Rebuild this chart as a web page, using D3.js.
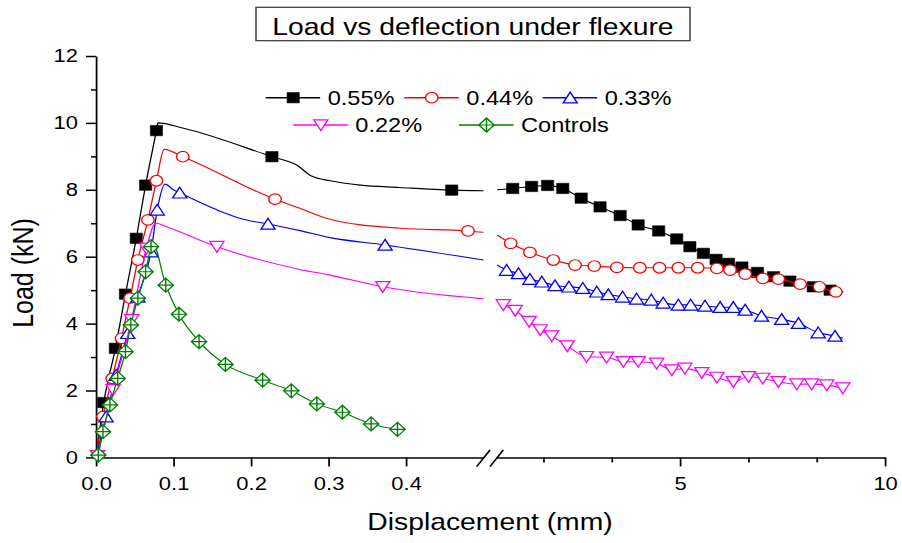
<!DOCTYPE html>
<html>
<head>
<meta charset="utf-8">
<script src="https://cdn.jsdelivr.net/npm/d3@7"></script>
<style>
  body { margin: 0; background: #fff; }
  svg { display: block; }
</style>
</head>
<body>
<div id="chart"></div>
<script>
// broken x axis: 0 - 0.5 mm on the left part, 0.5 - 10 mm on the right part
const yTicks = [0, 2, 4, 6, 8, 10, 12];
const yMinor = [1, 3, 5, 7, 9, 11];
const leftTicks = [0, 0.1, 0.2, 0.3, 0.4];
const leftTickLabels = ["0.0", "0.1", "0.2", "0.3", "0.4"];
const rightTicks = [5, 10];
const rightMinor = [1.667, 3.333, 6.667, 8.333];

// [displacement mm, load kN] -- points that carry a marker
const marks055 = [[0.010,1.64],[0.025,3.26],[0.038,4.88],[0.052,6.55],[0.064,8.14],[0.078,9.77],[0.227,8.99],[0.459,7.99],
  [0.92,8.04],[1.38,8.10],[1.77,8.13],[2.14,8.04],[2.59,7.75],[3.05,7.49],[3.54,7.23],[3.98,6.95],[4.48,6.77],[4.92,6.53],
  [5.24,6.30],[5.57,6.10],[5.88,5.92],[6.18,5.80],[6.51,5.69],[6.89,5.53],[7.28,5.40],[7.68,5.27],[8.25,5.10],[8.66,5.00]];
const marks044 = [[0.009,1.22],[0.021,2.36],[0.033,3.56],[0.044,4.76],[0.054,5.90],[0.067,7.10],[0.078,8.27],[0.112,8.99],[0.231,7.72],[0.480,6.77],
  [0.87,6.40],[1.34,6.13],[1.91,5.90],[2.44,5.75],[2.91,5.72],[3.46,5.68],[4.02,5.67],[4.50,5.67],[4.96,5.67],[5.43,5.67],
  [5.90,5.65],[6.22,5.60],[6.59,5.48],[7.02,5.35],[7.40,5.33],[7.93,5.18],[8.40,5.10],[8.80,4.95]];
const marks033 = [[0.013,1.22],[0.026,2.46],[0.041,3.71],[0.054,4.80],[0.071,6.15],[0.079,7.40],[0.108,7.91],[0.222,6.98],[0.373,6.35],
  [0.77,5.60],[1.06,5.50],[1.34,5.33],[1.63,5.25],[1.95,5.14],[2.29,5.10],[2.63,5.06],[2.97,4.95],[3.25,4.87],[3.60,4.80],
  [3.94,4.74],[4.30,4.71],[4.59,4.62],[4.96,4.56],[5.26,4.56],[5.61,4.53],[5.98,4.49],[6.30,4.49],[6.59,4.41],[6.99,4.23],
  [7.48,4.13],[7.89,4.01],[8.37,3.73],[8.78,3.63]];
const marks022 = [[0.002,0.05],[0.022,2.02],[0.046,4.11],[0.065,6.25],[0.156,6.30],[0.370,5.10],
  [0.69,4.56],[0.98,4.39],[1.32,4.06],[1.59,3.81],[1.87,3.63],[2.25,3.33],[2.72,3.01],[3.21,2.99],[3.62,2.86],[3.98,2.86],
  [4.43,2.81],[4.80,2.61],[5.12,2.66],[5.53,2.53],[5.90,2.39],[6.30,2.26],[6.67,2.41],[7.02,2.36],[7.40,2.26],[7.85,2.19],
  [8.21,2.19],[8.58,2.16],[8.97,2.07]];
const marksCtrl = [[0.003,0.07],[0.009,0.77],[0.018,1.57],[0.028,2.36],[0.038,3.16],[0.045,3.96],[0.054,4.76],[0.064,5.55],[0.071,6.30],
  [0.090,5.15],[0.107,4.28],[0.133,3.46],[0.167,2.78],[0.215,2.31],[0.252,1.99],[0.285,1.60],[0.318,1.35],[0.355,1.00],[0.389,0.84]];

// extra curve points without a marker
const bends055 = [[0,0],[0.080,10.0],[0.113,9.84],[0.259,8.74],[0.278,8.41],[0.302,8.27],[0.341,8.14],[0.392,8.07],[0.5,7.97],[0.54,8.0],[8.98,4.95]];
const bends044 = [[0,0],[0.088,9.21],[0.263,7.45],[0.302,7.12],[0.392,6.85],[0.5,6.73],[0.54,6.65],[8.98,4.95]];
const bends033 = [[0,0],[0.089,8.17],[0.100,8.0],[0.156,7.40],[0.190,7.12],[0.263,6.78],[0.302,6.57],[0.5,5.90],[0.54,5.75],[8.98,3.56]];
const bends022 = [[0.077,7.0],[0.096,6.85],[0.263,5.62],[0.302,5.45],[0.5,4.74],[0.57,4.65]];
const bendsCtrl = [[0.073,6.42]];

const names = ["0.55%", "0.44%", "0.33%", "0.22%", "Controls"];
const colors = ["#000000", "#ff0000", "#0000ff", "#ff00ff", "#008000"];
const shapes = ["square", "circle", "triUp", "triDown", "diamond"];
const allMarks = [marks055, marks044, marks033, marks022, marksCtrl];
const allBends = [bends055, bends044, bends033, bends022, bendsCtrl];

const W = 902, H = 543;
const SX = 1.18;          // the picture is stretched sideways
const v = px => px / SX;  // screen x -> inner x
const FONT = "Liberation Sans, Arial, sans-serif";

const svg = d3.select("#chart").append("svg").attr("width", W).attr("height", H);
svg.append("rect").attr("width", W).attr("height", H).attr("fill", "#fff");
const g = svg.append("g").attr("transform", "scale(" + SX + ",1)");

const xL = d3.scaleLinear().domain([0, 0.5]).range([v(96), v(483.5)]);
const xR = d3.scaleLinear().domain([0.5, 10]).range([v(495.5), v(885)]);
const y = d3.scaleLinear().domain([0, 12]).range([457.4, 56]);
const xPos = d => d[0] <= 0.5 ? xL(d[0]) : xR(d[0]);

function styleAxis(sel, fs) {
  sel.attr("font-family", FONT).attr("font-size", fs);
  sel.selectAll("path, line").attr("stroke", "#000").attr("stroke-width", 1.5);
  sel.selectAll("text").attr("fill", "#000");
}

// y axis
g.append("g").attr("transform", "translate(" + v(96) + ",0)")
  .call(d3.axisLeft(y).tickValues(yTicks).tickSize(v(10)).tickSizeOuter(0).tickPadding(v(8)).tickFormat(d3.format("d")))
  .call(s => styleAxis(s, 18.6));
g.append("g").attr("transform", "translate(" + v(96) + ",0)")
  .call(d3.axisLeft(y).tickValues(yMinor).tickSize(v(5)).tickFormat(""))
  .call(s => s.select(".domain").remove())
  .call(s => styleAxis(s, 18.6));

// x axes (two pieces)
g.append("g").attr("transform", "translate(0,457.4)")
  .call(d3.axisBottom(xL).tickValues(leftTicks).tickSize(9).tickSizeOuter(0).tickPadding(10.3)
    .tickFormat((d, i) => leftTickLabels[i]))
  .call(s => styleAxis(s, 18.6));
g.append("g").attr("transform", "translate(0,457.4)")
  .call(d3.axisBottom(xR).tickValues(rightTicks).tickSize(9).tickSizeOuter(0).tickPadding(10.3))
  .call(s => styleAxis(s, 18.6));
g.append("g").attr("transform", "translate(0,457.4)")
  .call(d3.axisBottom(xR).tickValues(rightMinor).tickSize(5).tickFormat(""))
  .call(s => s.select(".domain").remove())
  .call(s => styleAxis(s, 18.6));

// break marks
[476.7, 490].forEach(x0 => {
  g.append("line").attr("x1", v(x0)).attr("y1", 466.7).attr("x2", v(x0 + 13.3)).attr("y2", 450)
    .attr("stroke", "#000").attr("stroke-width", 1.4);
});

function markerPath(shape) {
  switch (shape) {
    case "square": return "M-5.2,-5.2H5.2V5.2H-5.2Z";
    case "circle": return "M5.3,0A5.3,5.3 0 1,1 -5.3,0A5.3,5.3 0 1,1 5.3,0Z";
    case "triUp": return "M0,-5.6L6,5.2L-6,5.2Z";
    case "triDown": return "M0,5.6L6,-5.2L-6,-5.2Z";
    case "diamond": return "M0,-7L6.5,0L0,7L-6.5,0ZM0,-7V7M-6.5,0H6.5";
  }
}
function drawMarker(sel, shape, color) {
  sel.attr("d", markerPath(shape))
    .attr("fill", shape === "square" ? color : "#fff")
    .attr("stroke", color)
    .attr("stroke-width", shape === "square" ? 0.5 : 1.2);
}

const line = d3.line().x(xPos).y(d => y(d[1])).curve(d3.curveMonotoneX);

allMarks.forEach((marks, i) => {
  const pts = marks.concat(allBends[i]).sort((a, b) => a[0] - b[0]);
  const pieces = [pts.filter(d => d[0] <= 0.5), pts.filter(d => d[0] > 0.5)];
  const sg = g.append("g");
  pieces.forEach(p => {
    if (p.length < 2) return;
    sg.append("path").datum(p).attr("d", line)
      .attr("fill", "none").attr("stroke", colors[i]).attr("stroke-width", 1.1);
  });
  sg.selectAll("path.mk").data(marks).enter().append("path").attr("class", "mk")
    .attr("transform", d => "translate(" + xPos(d) + "," + y(d[1]) + ")")
    .call(s => drawMarker(s, shapes[i], colors[i]));
});

// legend (screen positions of the line starts)
const legendRows = [[0, 1, 2], [3, 4]];
const legendStarts = [[265.7, 404.3, 542.7], [293.3, 459]];
const legendY = [97.7, 125];
legendRows.forEach((row, r) => {
  row.forEach((si, k) => {
    const x1 = legendStarts[r][k];
    const lg = g.append("g");
    lg.append("line").attr("x1", v(x1)).attr("x2", v(x1 + 54.5)).attr("y1", legendY[r]).attr("y2", legendY[r])
      .attr("stroke", colors[si]).attr("stroke-width", 1.6);
    lg.append("path").attr("transform", "translate(" + v(x1 + 27.5) + "," + legendY[r] + ")")
      .call(s => drawMarker(s, shapes[si], colors[si]));
    lg.append("text").attr("x", v(x1 + 62)).attr("y", legendY[r] + 7)
      .attr("font-family", FONT).attr("font-size", 20).attr("fill", "#000").text(names[si]);
  });
});

// title box
g.append("rect").attr("x", v(256)).attr("y", 7.3).attr("width", v(434)).attr("height", 33.4)
  .attr("fill", "#fff").attr("stroke", "#333").attr("stroke-width", 1.2);
g.append("text").attr("x", v(473)).attr("y", 35).attr("text-anchor", "middle")
  .attr("font-family", FONT).attr("font-size", 24).attr("fill", "#000")
  .text("Load vs deflection under flexure");

// axis titles
g.append("text").attr("x", v(490)).attr("y", 530).attr("text-anchor", "middle")
  .attr("font-family", FONT).attr("font-size", 24).attr("fill", "#000")
  .text("Displacement (mm)");
g.append("text").attr("transform", "translate(" + v(33.3) + ",273) rotate(-90)").attr("text-anchor", "middle")
  .attr("font-family", FONT).attr("font-size", 25).attr("fill", "#000")
  .text("Load (kN)");
</script>
</body>
</html>
